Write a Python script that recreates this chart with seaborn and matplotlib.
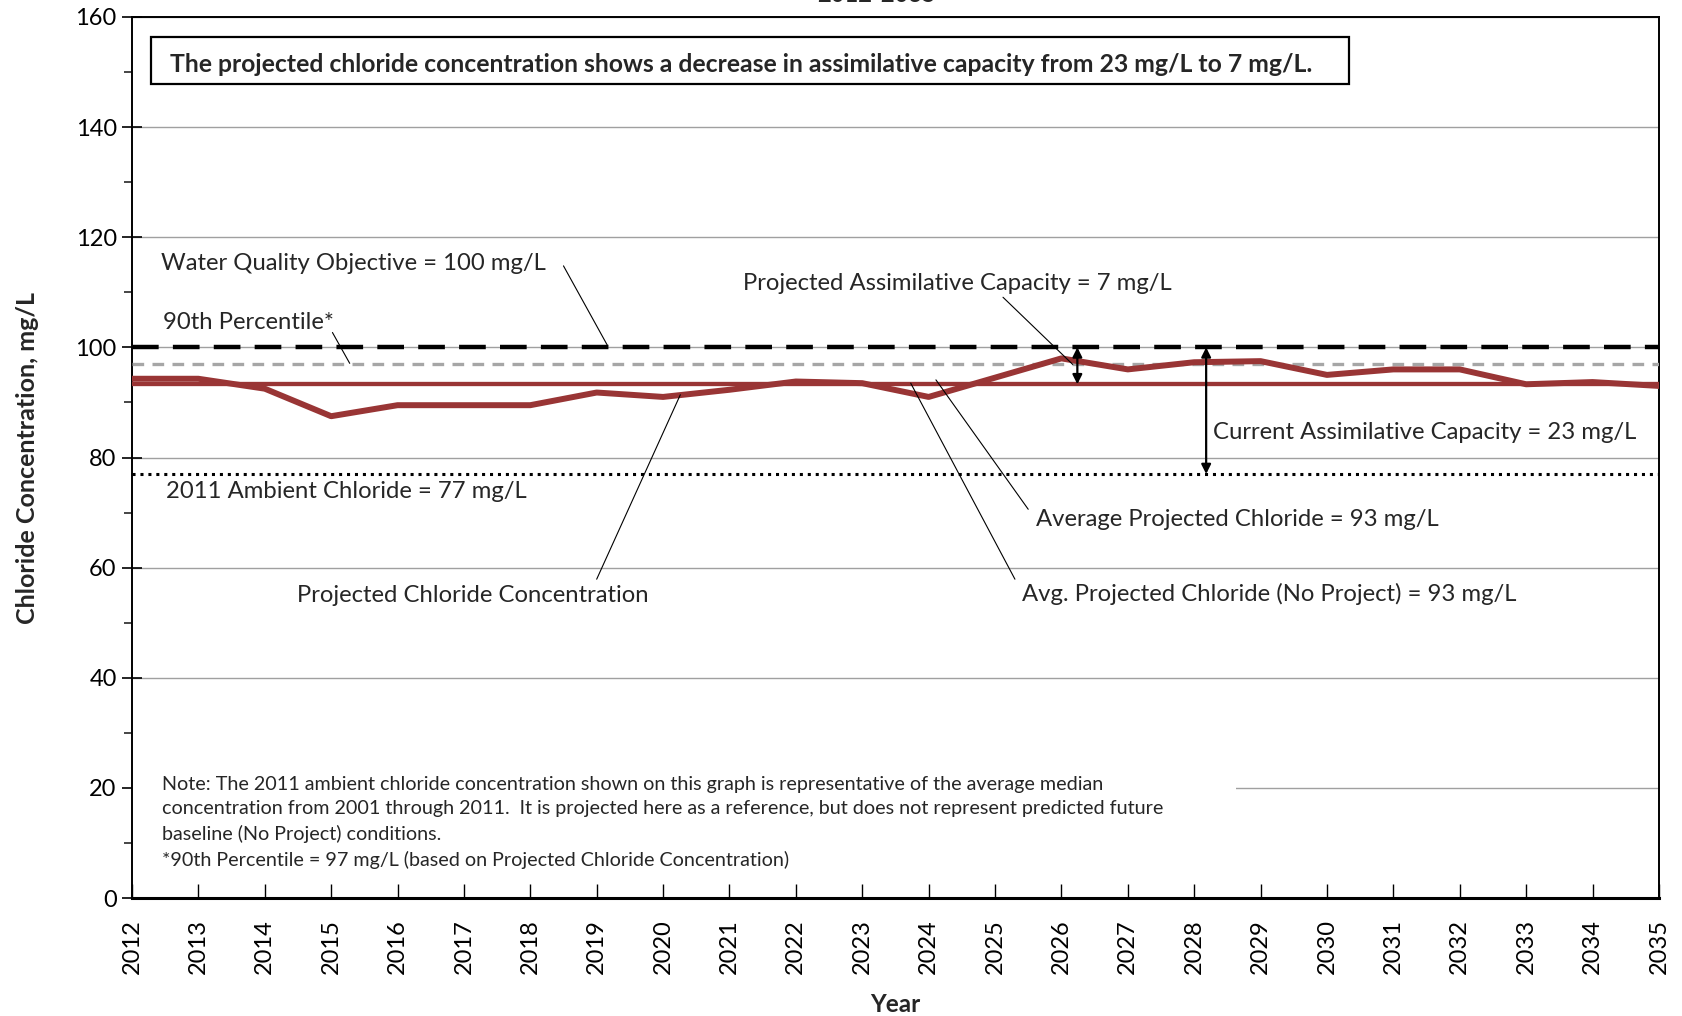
import matplotlib
matplotlib.use("Agg")
import matplotlib.pyplot as plt
import seaborn as sns
import pandas as pd
from matplotlib.patches import Rectangle
from matplotlib.ticker import MultipleLocator

years = list(range(2012, 2036))
projected = [94.3, 94.3, 92.5, 87.5, 89.5, 89.5, 89.5, 91.8, 91.0, 92.3, 93.8, 93.5,
             91.0, 94.5, 98.0, 96.0, 97.3, 97.5, 95.0, 96.0, 96.0, 93.3, 93.7, 93.0]
wqo = 100
pct90 = 97
avg_projected = 93.3
avg_no_project = 93.3
ambient_2011 = 77
year_ticks = [str(y) for y in years]

sns.set_theme(style="white")
plt.rcParams['font.family'] = ['Lato', 'DejaVu Sans']

fig = plt.figure(figsize=(16.83, 10.16), dpi=100)
ax = fig.add_axes([0.0784, 0.1161, 0.9073, 0.8672])

df = pd.DataFrame({"Year": years, "Chloride": projected})

red = '#993535'
ax.axhline(wqo, color='black', lw=3.2, dashes=(6, 3.2), zorder=3)
ax.axhline(pct90, color='#A6A6A6', lw=2.4, dashes=(3.5, 2.5), zorder=3)
ax.axhline(avg_projected, color=red, lw=3.0, zorder=3)
ax.axhline(avg_no_project, color=red, lw=3.0, zorder=3)
ax.axhline(ambient_2011, color='black', lw=2.2, linestyle=(0, (1, 1.6)), zorder=3)
sns.lineplot(data=df, x="Year", y="Chloride", color=red, lw=4.3, ax=ax, zorder=4)

ax.set_xlim(2012, 2035)
ax.set_ylim(0, 160)
ax.yaxis.set_major_locator(MultipleLocator(20))
ax.yaxis.set_minor_locator(MultipleLocator(10))
ax.set_xticks(years)
ax.set_xticklabels(year_ticks, rotation=90)
ax.grid(axis='y', which='major', color='#A0A0A0', lw=1.0)
ax.set_axisbelow(True)
for s in ax.spines.values():
    s.set_color('black')
    s.set_linewidth(1.4)
ax.spines['bottom'].set_linewidth(2.2)
ax.tick_params(axis='y', which='major', direction='inout', length=14, width=1.2,
               labelsize=17, colors='black', pad=4, left=True)
ax.tick_params(axis='y', which='minor', direction='out', length=6, width=1.2, left=True)
ax.tick_params(axis='x', which='major', direction='in', length=10, width=1.0,
               labelsize=17, colors='black', pad=15, bottom=True)

ax.set_xlabel("Year", fontsize=17.5, fontweight='bold', labelpad=14)
ax.set_ylabel("Chloride Concentration, mg/L", fontsize=18, fontweight='bold', labelpad=26)

fs = 17.2
dy = -0.5
ax.text(2012.44, 115.8 + dy, "Water Quality Objective = 100 mg/L", fontsize=fs, va='center')
ax.plot([2018.50, 2019.16], [114.8, 100.4], color='black', lw=0.8, zorder=5)
ax.text(2012.47, 105.0 + dy, "90th Percentile*", fontsize=fs, va='center')
ax.plot([2015.02, 2015.28], [102.7, 97.1], color='black', lw=0.8, zorder=5)
ax.text(2021.21, 112.1 + dy, "Projected Assimilative Capacity = 7 mg/L", fontsize=fs, va='center')
ax.plot([2025.12, 2026.17], [109.1, 96.9], color='black', lw=0.8, zorder=5)
ax.annotate("", xy=(2026.24, wqo), xytext=(2026.24, avg_projected),
            arrowprops=dict(arrowstyle='<|-|>', color='black', lw=1.6, mutation_scale=14,
                            shrinkA=0, shrinkB=0), zorder=6)
ax.annotate("", xy=(2028.18, wqo), xytext=(2028.18, ambient_2011),
            arrowprops=dict(arrowstyle='<|-|>', color='black', lw=1.6, mutation_scale=14,
                            shrinkA=0, shrinkB=0), zorder=6)
ax.text(2028.28, 85.0 + dy, "Current Assimilative Capacity = 23 mg/L", fontsize=fs, va='center')
ax.text(2012.52, 74.3 + dy, "2011 Ambient Chloride = 77 mg/L", fontsize=fs, va='center')
ax.text(2014.49, 55.4 + dy, "Projected Chloride Concentration", fontsize=fs, va='center')
ax.plot([2019.0, 2020.26], [57.9, 91.4], color='black', lw=0.8, zorder=5)
ax.text(2025.61, 69.2 + dy, "Average Projected Chloride = 93 mg/L", fontsize=fs, va='center')
ax.plot([2025.50, 2024.11], [70.6, 94.1], color='black', lw=0.8, zorder=5)
ax.text(2025.40, 55.7 + dy, "Avg. Projected Chloride (No Project) = 93 mg/L", fontsize=fs, va='center')
ax.plot([2025.30, 2023.73], [57.9, 93.5], color='black', lw=0.8, zorder=5)

ax.add_patch(Rectangle((2012.29, 147.9), 2030.33 - 2012.29, 156.3 - 147.9,
                       facecolor='white', edgecolor='black', lw=1.6, zorder=5))
ax.text(2012.58, 151.4,
        "The projected chloride concentration shows a decrease in assimilative capacity from 23 mg/L to 7 mg/L.",
        fontsize=17.8, fontweight='bold', va='center', zorder=6)

ax.add_patch(Rectangle((2012.0, 3.0), 2028.63 - 2012.0, 21.0,
                       facecolor='white', edgecolor='none', zorder=1.5))
note = ("Note: The 2011 ambient chloride concentration shown on this graph is representative of the average median\n"
        "concentration from 2001 through 2011.  It is projected here as a reference, but does not represent predicted future\n"
        "baseline (No Project) conditions.\n"
        "*90th Percentile = 97 mg/L (based on Projected Chloride Concentration)")
ax.text(2012.45, 22.1, note, fontsize=14.2, va='top', linespacing=1.5, zorder=6)

fig.text(0.521, 1 - 6 / 1016, "2012-2035", fontsize=17, fontweight='bold',
         ha='center', va='bottom')

fig.savefig("out.png", dpi=100)
